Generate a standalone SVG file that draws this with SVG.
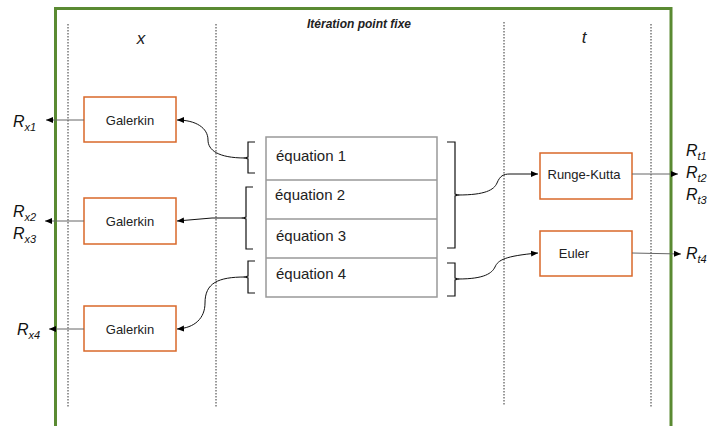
<svg xmlns="http://www.w3.org/2000/svg" width="710" height="426" viewBox="0 0 710 426">
<defs>
<marker id="ah" markerWidth="8" markerHeight="8" refX="7" refY="4" orient="auto" markerUnits="userSpaceOnUse"><path d="M0,1 L7,4 L0,7 Z" fill="#000"/></marker>
<style>
.frame{fill:none;stroke:#5a8a32;stroke-width:3}
.dot{stroke:#333;stroke-width:1;stroke-dasharray:1.5,1.5;fill:none}
.proc{fill:#fff;stroke:#d9682a;stroke-width:1.5}
.eq{fill:#fff;stroke:#999;stroke-width:1.5}
.br{fill:none;stroke:#111;stroke-width:1.2}
.c{fill:none;stroke:#111;stroke-width:1;marker-end:url(#ah)}
.o{fill:none;stroke:#666;stroke-width:1;marker-end:url(#ah)}
text{font-family:"Liberation Sans",Arial,sans-serif;fill:#222}
.lbl{font-size:13px}
.eqt{font-size:15px}
.ax{font-size:17px;font-style:italic}
.R{font-size:16px;font-style:italic;fill:#111}
.sub{font-size:11px}
.title{font-size:12px;font-weight:bold;font-style:italic}
</style>
</defs>
<rect x="0" y="0" width="710" height="426" fill="#fff"/>
<rect class="frame" x="55.5" y="8.5" width="615.5" height="440"/>
<line class="dot" x1="68" y1="24" x2="68" y2="407"/>
<line class="dot" x1="216" y1="24" x2="216" y2="407"/>
<line class="dot" x1="504" y1="22" x2="504" y2="405"/>
<line class="dot" x1="651" y1="24" x2="651" y2="407"/>
<text class="title" x="359" y="28" text-anchor="middle">Itération point fixe</text>
<text class="ax" x="141" y="44" text-anchor="middle">x</text>
<text class="ax" x="584" y="43" text-anchor="middle">t</text>

<g id="galerkin1"><rect class="proc" x="84" y="97" width="92" height="45"/><text class="lbl" x="130" y="124.5" text-anchor="middle">Galerkin</text></g>
<g id="galerkin2"><rect class="proc" x="84" y="198" width="92" height="46"/><text class="lbl" x="130" y="225.5" text-anchor="middle">Galerkin</text></g>
<g id="galerkin3"><rect class="proc" x="84" y="306" width="92" height="45"/><text class="lbl" x="130" y="333.5" text-anchor="middle">Galerkin</text></g>
<g id="rungekutta"><rect class="proc" x="540" y="153" width="92" height="46"/><text class="lbl" x="584" y="178.5" text-anchor="middle">Runge-Kutta</text></g>
<g id="euler"><rect class="proc" x="540" y="231" width="92" height="45"/><text class="lbl" x="574" y="258" text-anchor="middle">Euler</text></g>

<g id="equations">
<rect class="eq" x="266" y="137" width="171" height="160"/>
<line class="eq" x1="266" y1="180" x2="437" y2="180"/>
<line class="eq" x1="266" y1="219" x2="437" y2="219"/>
<line class="eq" x1="266" y1="258" x2="437" y2="258"/>
<text class="eqt" x="276" y="161">équation 1</text>
<text class="eqt" x="275" y="200">équation 2</text>
<text class="eqt" x="276" y="241">équation 3</text>
<text class="eqt" x="276" y="279">équation 4</text>
</g>

<g id="braces">
<path class="br" d="M255,142 L248,142 L248,157 L245,158 L248,159 L248,173 L255,173"/>
<path class="br" d="M253,187 L246,187 L246,217 L243,218 L246,219 L246,249 L253,249"/>
<path class="br" d="M255,261 L248,261 L248,276 L245,277 L248,278 L248,293 L255,293"/>
<path class="br" d="M447,142 L455,142 L455,194 L458,195 L455,196 L455,248 L447,248"/>
<path class="br" d="M447,263 L455,263 L455,278 L458,279 L455,280 L455,296 L447,296"/>
</g>

<g id="connectors">
<path class="c" d="M245,158 C218,158 208,150 208,140 C208,128 196,120 177,120"/>
<path class="c" d="M243,218 L212,218 L177,221"/>
<path class="c" d="M245,277 C218,277 205,283 205,303 C205,318 195,328 177,329"/>
<path class="c" d="M458,195 C485,195 494,190 497,183 C500,176 503,174 510,174 L538,174"/>
<path class="c" d="M458,279 C485,279 492,273 495,267 C498,260 505,256 538,253"/>
<path class="o" d="M84,120 L46,120"/>
<path class="o" d="M84,221 L45,221"/>
<path class="o" d="M84,329 L49,329"/>
<path class="o" d="M632,174 L678,174"/>
<path class="o" d="M632,253 L681,254"/>
</g>

<g id="labels">
<text class="R" x="13" y="127">R<tspan class="sub" dy="4">x1</tspan></text>
<text class="R" x="13" y="217">R<tspan class="sub" dy="4">x2</tspan></text>
<text class="R" x="13" y="239">R<tspan class="sub" dy="4">x3</tspan></text>
<text class="R" x="17" y="335">R<tspan class="sub" dy="4">x4</tspan></text>
<text class="R" x="686" y="156">R<tspan class="sub" dy="4">t1</tspan></text>
<text class="R" x="686" y="178">R<tspan class="sub" dy="4">t2</tspan></text>
<text class="R" x="686" y="200">R<tspan class="sub" dy="4">t3</tspan></text>
<text class="R" x="686" y="259">R<tspan class="sub" dy="4">t4</tspan></text>
</g>
</svg>
